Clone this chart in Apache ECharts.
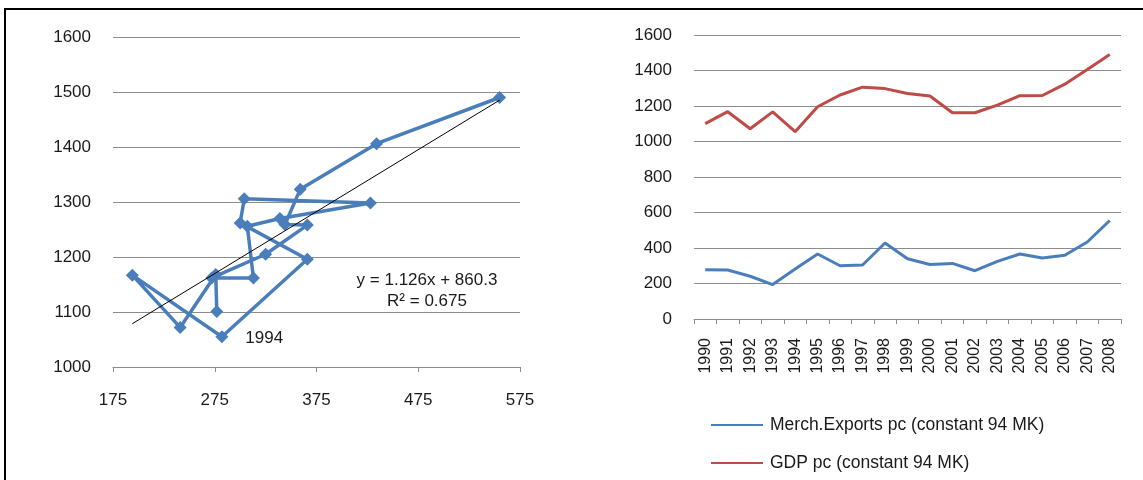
<!DOCTYPE html>
<html>
<head>
<meta charset="utf-8">
<script src="https://cdn.jsdelivr.net/npm/echarts@6/dist/echarts.min.js"></script>
<style>
    body { margin: 0; background: #ffffff; }
    .frame { position: absolute; left: 4px; top: 8px; width: 1145px; height: 480px; border-top: 2px solid #000; border-left: 2px solid #000; }
    #exportsChart { position: absolute; left: 0; top: 0; width: 1143px; height: 480px; }
</style>
</head>
<body>
<div class="frame"></div>
<div id="exportsChart"></div>
<script>
    var years = ['1990', '1991', '1992', '1993', '1994', '1995', '1996', '1997', '1998', '1999',
                 '2000', '2001', '2002', '2003', '2004', '2005', '2006', '2007', '2008'];
    var exportsPc = [277, 276, 241, 194, 282, 366, 300, 304, 428, 339, 307, 313, 272, 325, 366, 344, 359, 434, 555];
    var gdpPc = [1101, 1168, 1072, 1167, 1055, 1196, 1262, 1306, 1298, 1270, 1256, 1162, 1162, 1205, 1258, 1259, 1323, 1406, 1490];
    var trendSlope = 1.126;
    var trendIntercept = 860.3;
    var trendR2 = 0.675;
    var labelYear = '1994';

    var blue = '#4A7EBB';
    var red = '#BE4B48';
    var gridColor = '#8c8c8c';
    var textColor = '#1a1a1a';
    var fontName = 'Liberation Sans, Arial, sans-serif';

    // scatter pairs, in year order
    var pairs = [];
    for (var i = 0; i < years.length; i++) {
        var item = { value: [exportsPc[i], gdpPc[i]] };
        if (years[i] === labelYear) {
            item.label = {
                show: true, formatter: labelYear, position: 'right', distance: 17, offset: [0, 2],
                color: textColor, fontSize: 17, fontFamily: fontName
            };
        }
        pairs.push(item);
    }

    var xMin = Math.min.apply(null, exportsPc);
    var xMax = Math.max.apply(null, exportsPc);
    var trend = [
        [xMin, trendSlope * xMin + trendIntercept],
        [xMax, trendSlope * xMax + trendIntercept]
    ];

    function plain(v) { return String(v); }

    var chart = echarts.init(document.getElementById('exportsChart'));
    chart.setOption({
        animation: false,
        textStyle: { fontFamily: fontName },
        grid: [
            { left: 113, top: 37, width: 407, height: 330 },
            { left: 694, top: 35, width: 427, height: 284 }
        ],
        legend: {
            data: ['Merch.Exports pc (constant 94 MK)', 'GDP pc (constant 94 MK)'],
            orient: 'vertical',
            left: 706,
            top: 411,
            icon: 'rect',
            itemWidth: 52,
            itemHeight: 2,
            itemGap: 20,
            textStyle: { color: textColor, fontSize: 17.5, fontFamily: fontName, padding: [0, 0, 0, 2] }
        },
        xAxis: [
            {
                gridIndex: 0, type: 'value', min: 175, max: 575, interval: 100,
                axisLine: { show: true, onZero: false, lineStyle: { color: gridColor } },
                axisTick: { show: true, length: 5, lineStyle: { color: gridColor } },
                axisLabel: { margin: 25, color: textColor, fontSize: 17, fontFamily: fontName, formatter: plain },
                splitLine: { show: false }
            },
            {
                gridIndex: 1, type: 'category', data: years, boundaryGap: true,
                axisLine: { show: true, lineStyle: { color: gridColor } },
                axisTick: { show: true, length: 5, interval: 0, lineStyle: { color: gridColor } },
                axisLabel: { rotate: 90, interval: 0, margin: 19, color: textColor, fontSize: 16, fontFamily: fontName },
                splitLine: { show: false }
            }
        ],
        yAxis: [
            {
                gridIndex: 0, type: 'value', min: 1000, max: 1600, interval: 100,
                axisLine: { show: false }, axisTick: { show: false },
                axisLabel: { margin: 22, color: textColor, fontSize: 17, fontFamily: fontName, formatter: plain },
                splitLine: { lineStyle: { color: gridColor, width: 1 } }
            },
            {
                gridIndex: 1, type: 'value', min: 0, max: 1600, interval: 200,
                axisLine: { show: false }, axisTick: { show: false },
                axisLabel: { margin: 22, color: textColor, fontSize: 17, fontFamily: fontName, formatter: plain },
                splitLine: { lineStyle: { color: gridColor, width: 1 } }
            }
        ],
        series: [
            {
                name: 'Exports vs GDP',
                type: 'line',
                xAxisIndex: 0, yAxisIndex: 0,
                data: pairs,
                symbol: 'diamond',
                symbolSize: 13,
                lineStyle: { color: blue, width: 3.5 },
                itemStyle: { color: blue }
            },
            {
                name: 'Trend',
                type: 'line',
                xAxisIndex: 0, yAxisIndex: 0,
                data: trend,
                symbol: 'none',
                lineStyle: { color: '#000', width: 1 },
                z: 5
            },
            {
                name: 'Merch.Exports pc (constant 94 MK)',
                type: 'line',
                xAxisIndex: 1, yAxisIndex: 1,
                data: exportsPc,
                symbol: 'none',
                lineStyle: { color: blue, width: 3 },
                itemStyle: { color: blue }
            },
            {
                name: 'GDP pc (constant 94 MK)',
                type: 'line',
                xAxisIndex: 1, yAxisIndex: 1,
                data: gdpPc,
                symbol: 'none',
                lineStyle: { color: red, width: 3 },
                itemStyle: { color: red }
            }
        ],
        graphic: [
            {
                type: 'text', x: 427, y: 270,
                style: {
                    text: 'y = ' + trendSlope + 'x + ' + trendIntercept + '\nR² = ' + trendR2,
                    align: 'center', verticalAlign: 'top', fill: textColor, fontSize: 17, fontFamily: fontName, lineHeight: 21
                }
            }
        ]
    });
</script>
</body>
</html>
